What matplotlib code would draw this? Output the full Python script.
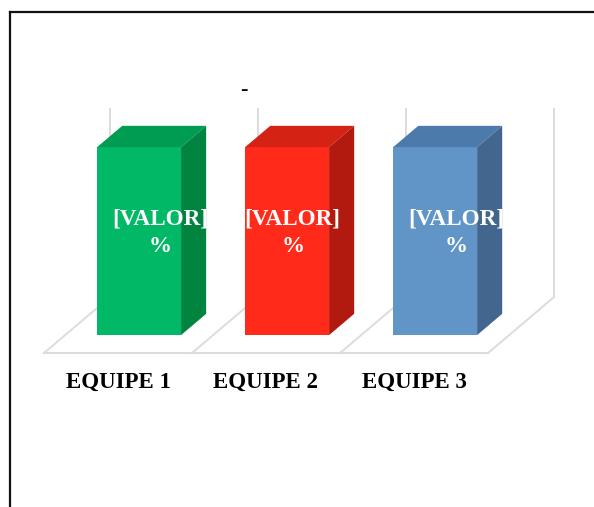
import matplotlib
matplotlib.use("Agg")
import matplotlib.pyplot as plt
from matplotlib.patches import Polygon
from matplotlib.lines import Line2D

# ---- data ----
categories = ["EQUIPE 1", "EQUIPE 2", "EQUIPE 3"]
values = [100, 100, 100]
bar_labels = ["[VALOR]\n%", "[VALOR]\n%", "[VALOR]\n%"]
title_text = "-"

# ---- style ----
front_colors = ["#00b866", "#ff2a1a", "#6195c8"]
top_colors = ["#009c52", "#d42214", "#4c7aaa"]
side_colors = ["#00843f", "#b21a10", "#43668e"]
label_dx_pts = [6, -5, 6]
grid_color = "#dcdcdc"
serif = ["Liberation Serif", "DejaVu Serif"]

DX = 0.446     # depth offset in category units
DY = 29.8      # depth offset in value units
d0, d1 = 0.32, 0.70
width = 0.567
vmax = 100

fig = plt.figure(figsize=(5.94, 5.07), dpi=100)
ax = fig.add_axes([0, 0, 1, 1])
ax.set_xlim(-0.797, 3.216)
ax.set_ylim(-81.9, 187.8)
ax.axis("off")

n = len(categories)
# floor and walls
ax.plot([-0.5, n - 0.5], [0, 0], color=grid_color, lw=1.4, zorder=1)
for b in range(n + 1):
    c = b - 0.5
    ax.plot([c, c + DX], [0, DY], color=grid_color, lw=1.4, zorder=1)
    ax.plot([c + DX, c + DX], [DY, DY + vmax], color=grid_color, lw=1.4, zorder=1)

ddx = (d1 - d0) * DX
ddy = (d1 - d0) * DY
for i, v in enumerate(values):
    xc = i + d0 * DX
    yb = d0 * DY
    xl, xr = xc - width / 2, xc + width / 2
    yt = yb + v
    ax.bar(xc, v, bottom=yb, width=width, color=front_colors[i], zorder=3, linewidth=0)
    ax.add_patch(Polygon([(xl, yt), (xr, yt), (xr + ddx, yt + ddy), (xl + ddx, yt + ddy)],
                         closed=True, facecolor=top_colors[i], edgecolor="none", zorder=3))
    ax.add_patch(Polygon([(xr, yb), (xr + ddx, yb + ddy), (xr + ddx, yt + ddy), (xr, yt)],
                         closed=True, facecolor=side_colors[i], edgecolor="none", zorder=3))
    ax.annotate(bar_labels[i], xy=(i + 0.51 * DX, yb + 0.545 * v), xytext=(label_dx_pts[i], 0),
                textcoords="offset points", ha="center", va="center", color="white",
                fontsize=16.7, fontweight="bold", family=serif, linespacing=1.36, zorder=5)
    ax.text(i, -15.4, categories[i], ha="center", va="center", color="black",
            fontsize=16.5, fontweight="bold", family=serif, zorder=5)

ax.text(0.851, 140, title_text, ha="center", va="center", fontsize=16,
        fontweight="bold", family=serif, color="black")

# outer frame (left and top)
fig.add_artist(Line2D([9.5 / 594, 9.5 / 594], [0, 1 - 12 / 507], color="#111111", lw=1.6,
                      transform=fig.transFigure))
fig.add_artist(Line2D([9.5 / 594, 1], [1 - 12 / 507, 1 - 12 / 507], color="#111111", lw=1.6,
                      transform=fig.transFigure))

fig.savefig("out.png", dpi=100)
